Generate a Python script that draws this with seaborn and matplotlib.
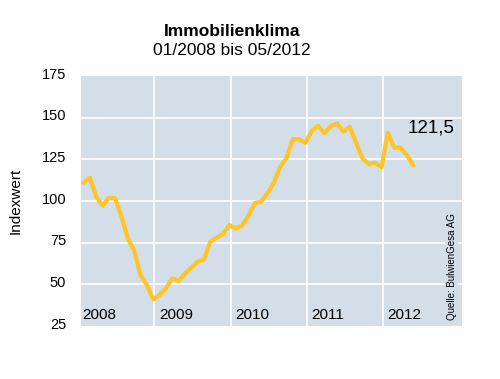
import matplotlib
matplotlib.use("Agg")
import matplotlib.pyplot as plt
from matplotlib.transforms import ScaledTranslation
import seaborn as sns
import pandas as pd
import numpy as np

# ---- data -------------------------------------------------------------
years = ["2008", "2009", "2010", "2011", "2012"]
index_2008 = [111, 114, 102.6, 97.2, 102, 101.6, 90.6, 77.6, 70.2, 55.6, 49.6, 41]
index_2009 = [43.6, 47.6, 53.5, 52, 56.5, 60, 63.6, 65, 75.6, 78, 80.2, 85.6]
index_2010 = [83.5, 85.3, 91, 98.8, 99.6, 104.6, 110.6, 120.6, 125.6, 137.2, 137, 135]
index_2011 = [142, 145.2, 140.6, 145, 146.6, 141.6, 144.6, 135, 125.6, 122.2, 123, 120.2]
index_2012 = [141, 132, 132, 127.6, 121.5]
last_label = "121,5"
yticks = [25, 50, 75, 100, 125, 150, 175]

values = index_2008 + index_2009 + index_2010 + index_2011 + index_2012
df = pd.DataFrame({"monat": np.arange(len(values)), "wert": values})

# ---- style ------------------------------------------------------------
sns.set_style("white")
plt.rcParams["font.family"] = ["Liberation Sans", "DejaVu Sans"]
plt.rcParams["text.color"] = "black"
plt.rcParams["axes.labelcolor"] = "black"
plt.rcParams["ytick.color"] = "black"

bg = "#D3DEE9"
line_col = "#FFC527"

fig = plt.figure(figsize=(5.0, 3.79), dpi=100)
ax = fig.add_axes([0.1614, 0.1398, 0.7626, 0.6596])
ax.set_facecolor(bg)

sns.lineplot(data=df, x="monat", y="wert", ax=ax, color=line_col,
             linewidth=3.0, zorder=3)

ax.set_xlim(-0.44, 59.7)
ax.set_ylim(25, 175)

# grid
for v in yticks[1:-1]:
    ax.axhline(v, color="white", linewidth=1.2, zorder=1)
boundaries = [11.2 + 12 * k for k in range(len(years) - 1)]
for b in boundaries:
    ax.axvline(b, color="white", linewidth=1.2, zorder=1)

for s in ax.spines.values():
    s.set_visible(False)

ax.set_xticks([])
ax.set_yticks(yticks)
ax.set_yticklabels([str(t) for t in yticks], fontsize=10.5, color="black")
ax.tick_params(axis="y", length=0, pad=10.5)
offset = ScaledTranslation(0, 3 / 100, fig.dpi_scale_trans)
for lab in ax.get_yticklabels():
    lab.set_transform(lab.get_transform() + offset)

ax.set_xlabel("")
ax.set_ylabel("Indexwert", fontsize=11, color="black")
ax.yaxis.set_label_coords(-0.151, 0.5)

# year labels
label_x = [-0.25] + [b + 0.7 for b in boundaries]
for x, y in zip(label_x, years):
    ax.text(x, 0.044, y, transform=ax.get_xaxis_transform(), fontsize=11,
            ha="left", va="center", zorder=4, color="black")

# last value label
ax.text(51.2, 143.8, last_label, fontsize=13.5, ha="left", va="center",
        zorder=4, color="black")

# source
ax.text(58.1, 0.238, "Quelle: BulwienGesa AG", transform=ax.get_xaxis_transform(),
        rotation=90, fontsize=7, ha="center", va="center", zorder=4, color="black",
        bbox=dict(facecolor=bg, edgecolor="none", pad=1.0))

# titles
fig.text(232 / 500, 1 - 32 / 379, "Immobilienklima", fontsize=12.5,
         fontweight="bold", ha="center", va="center", color="black")
fig.text(232 / 500, 1 - 50.7 / 379, "01/2008 bis 05/2012", fontsize=12.5,
         ha="center", va="center", color="black")

fig.savefig("out.png", dpi=100)
